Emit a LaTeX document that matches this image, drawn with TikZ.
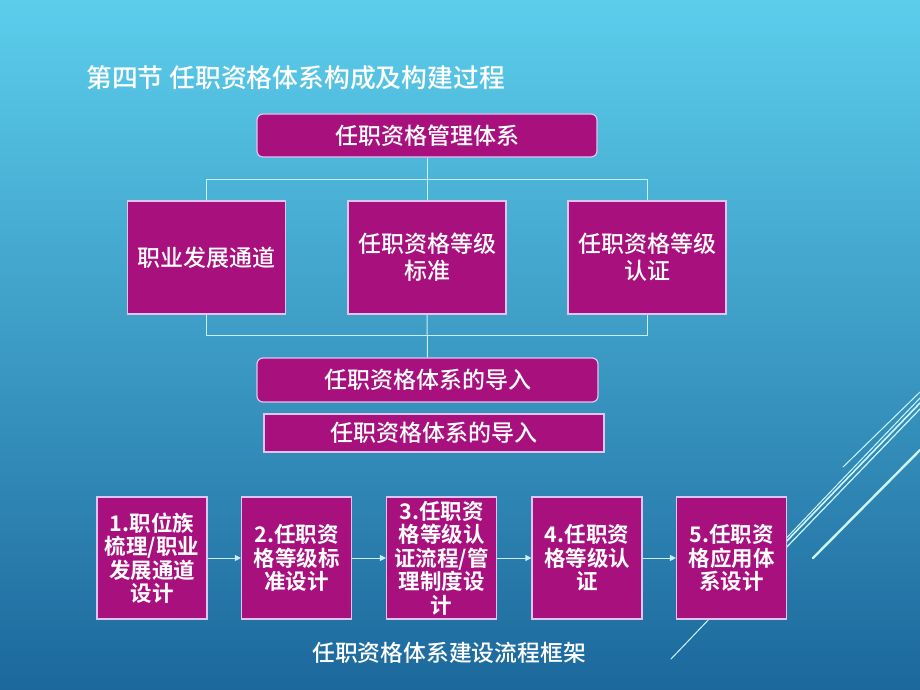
\documentclass[tikz,border=0pt]{standalone}
\usepackage{fontspec}
\setmainfont{Noto Sans CJK SC Medium}[BoldFont={Noto Sans CJK SC Bold}]
\usetikzlibrary{arrows.meta}
\definecolor{boxfill}{RGB}{168,16,126}
\definecolor{boxline}{RGB}{222,196,240}
\definecolor{linec}{RGB}{200,240,250}
\definecolor{decoc}{RGB}{205,245,252}
\definecolor{bgtop}{RGB}{92,206,236}
\definecolor{bgmid}{RGB}{50,152,200}
\definecolor{bgbot}{RGB}{28,104,156}
\tikzset{
  box/.style={draw=boxline, line width=1.2pt, fill=boxfill, text=white, inner sep=0pt, align=center, font=\fontsize{23}{27}\selectfont},
  rbox/.style={box, rounded corners=6pt},
  flowbox/.style={box, font=\bfseries\fontsize{21.5}{23.5}\selectfont, minimum width=110pt, minimum height=122pt},
  conn/.style={draw=linec, line width=1pt},
  arr/.style={conn, -{Triangle[length=6pt,width=6pt]}},
  deco/.style={draw=decoc, line cap=round},
  txt/.style={text=white, inner sep=0pt}
}
\begin{document}
\begin{tikzpicture}[x=1pt,y=-1pt]
\useasboundingbox (0,0) rectangle (920,690);
\shade[top color=bgtop, middle color=bgmid, bottom color=bgbot] (0,0) rectangle (920,690);

% title
\node[txt, anchor=west, font=\fontsize{25.8}{30}\selectfont] (title) at (86,78) {第四节 任职资格体系构成及构建过程};

% tree
\node[rbox, minimum width=340pt, minimum height=43pt] (top) at (427,135.5) {任职资格管理体系};
\node[box, minimum width=158pt, minimum height=113pt] (b1) at (206.5,257.5) {职业发展通道};
\node[box, minimum width=158pt, minimum height=113pt] (b2) at (427,257.5) {任职资格等级\\标准};
\node[box, minimum width=158pt, minimum height=113pt] (b3) at (647,257.5) {任职资格等级\\认证};
\node[rbox, minimum width=341pt, minimum height=44pt] (imp) at (427.5,380) {任职资格体系的导入};
\node[box, minimum width=340pt, minimum height=38pt] (imp2) at (434,433) {任职资格体系的导入};

\coordinate (hl) at (206.5,179);
\coordinate (hr) at (647,179);
\coordinate (lr) at (647,335);
\coordinate (ll) at (206.5,335);
\draw[conn] (top.south) -- (b2.north);
\draw[conn] (b1.north) -- (hl) -- (hr) -- (b3.north);
\draw[conn] (b2.south) -- (imp.north);
\draw[conn] (b1.south) -- (ll) -- (lr) -- (b3.south);

% decorative lines
\draw[deco, line width=1pt] (843,467) -- (920,392);
\draw[deco, line width=1pt] (671,659) -- (920,398);
\draw[deco, line width=1.6pt] (780,548) -- (920,403);
\draw[deco, line width=1.2pt] (780,554) -- (920,409);
\draw[deco, line width=2.4pt] (813,558) -- (920,450);

% flow
\node[flowbox] (f1) at (152,558) {1.职位族\\梳理/职业\\发展通道\\设计};
\node[flowbox] (f2) at (296.5,558) {2.任职资\\格等级标\\准设计};
\node[flowbox] (f3) at (441.5,558) {3.任职资\\格等级认\\证流程/管\\理制度设\\计};
\node[flowbox] (f4) at (587,558) {4.任职资\\格等级认\\证};
\node[flowbox] (f5) at (731.5,558) {5.任职资\\格应用体\\系设计};
\draw[arr] (f1.east) -- (f2.west);
\draw[arr] (f2.east) -- (f3.west);
\draw[arr] (f3.east) -- (f4.west);
\draw[arr] (f4.east) -- (f5.west);

\node[txt, font=\fontsize{22.8}{27}\selectfont] (cap) at (449,653) {任职资格体系建设流程框架};
\end{tikzpicture}
\end{document}
